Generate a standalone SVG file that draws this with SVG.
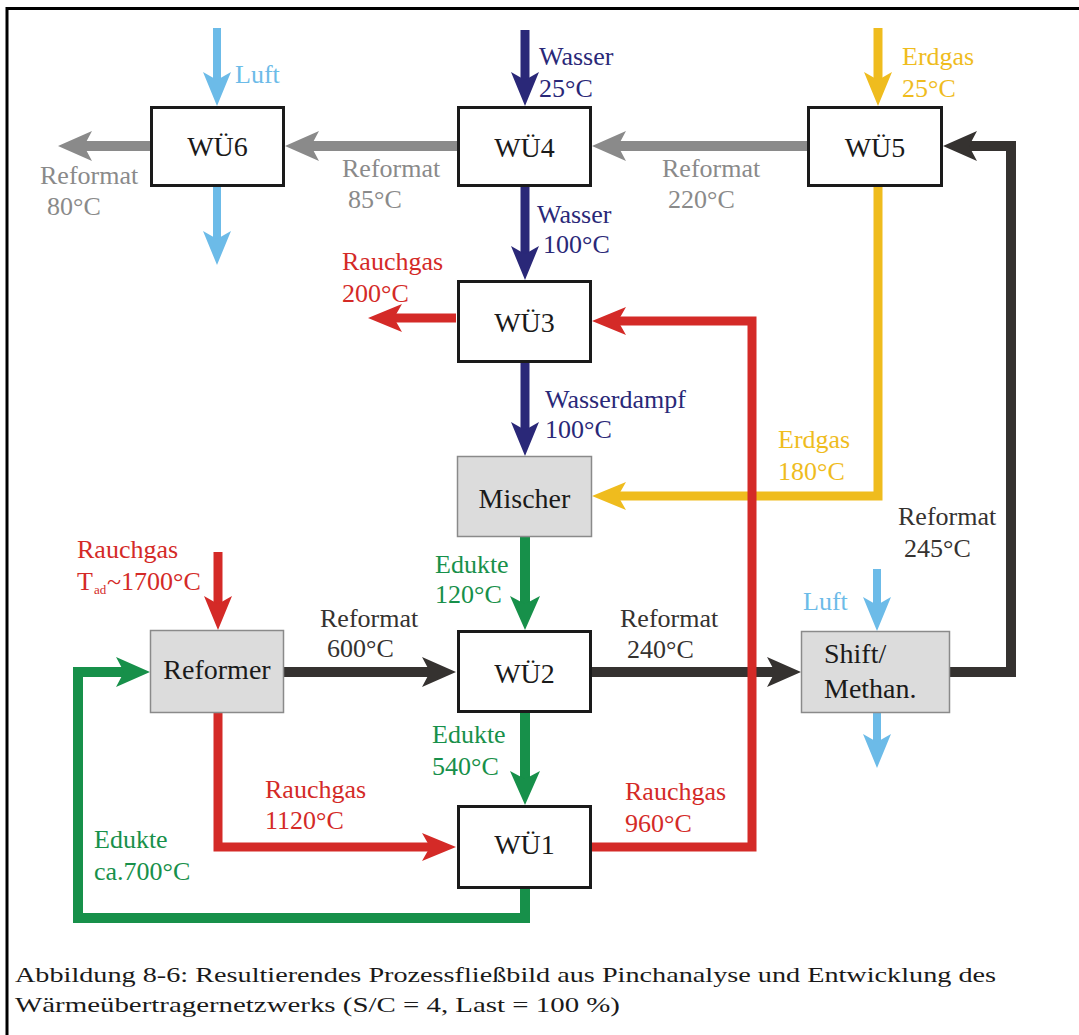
<svg xmlns="http://www.w3.org/2000/svg" width="1079" height="1035" viewBox="0 0 1079 1035">
  <style>
    text { font-family: "Liberation Serif", "Times New Roman", serif; }
    .lbl { font-size: 26px; }
    .box { font-size: 28px; fill: #1a1a1a; text-anchor: middle; }
    .hx { fill: #ffffff; stroke: #1a1a1a; stroke-width: 3; }
    .unit { fill: #dcdcdc; stroke: #8a8a8a; stroke-width: 1.5; }
    .flow { fill: none; stroke-linejoin: miter; stroke-linecap: butt; }
    .luft { stroke: #6cbbe8; stroke-width: 8; marker-end: url(#ah-luft); }
    .ref { stroke: #8a8a8a; stroke-width: 10; marker-end: url(#ah-ref); }
    .wat { stroke: #2a2878; stroke-width: 9; marker-end: url(#ah-wat); }
    .gas { stroke: #efbc1e; stroke-width: 9; marker-end: url(#ah-gas); }
    .hot { stroke: #353230; stroke-width: 10; marker-end: url(#ah-hot); }
    .flue { stroke: #d42a27; stroke-width: 9; marker-end: url(#ah-flue); }
    .edu { stroke: #17904a; stroke-width: 10; marker-end: url(#ah-edu); }
    .t-luft { fill: #6cbbe8; }
    .t-ref { fill: #8a8a8a; }
    .t-wat { fill: #2a2878; }
    .t-gas { fill: #efbc1e; }
    .t-hot { fill: #353230; }
    .t-flue { fill: #d42a27; }
    .t-edu { fill: #17904a; }
  </style>
  <defs>
    <!-- swept arrowheads; tip sits 20px beyond the end of each stream line -->
    <marker id="ah-luft" viewBox="0 0 34 30" refX="14" refY="15" markerWidth="34" markerHeight="30" markerUnits="userSpaceOnUse" orient="auto"><path d="M0,1 L34,15 L0,29 L8,15 Z" fill="#6cbbe8"/></marker>
    <marker id="ah-ref" viewBox="0 0 34 30" refX="14" refY="15" markerWidth="34" markerHeight="30" markerUnits="userSpaceOnUse" orient="auto"><path d="M0,0 L34,15 L0,30 L8,15 Z" fill="#8a8a8a"/></marker>
    <marker id="ah-wat" viewBox="0 0 34 30" refX="14" refY="15" markerWidth="34" markerHeight="30" markerUnits="userSpaceOnUse" orient="auto"><path d="M0,1 L34,15 L0,29 L8,15 Z" fill="#2a2878"/></marker>
    <marker id="ah-gas" viewBox="0 0 34 30" refX="14" refY="15" markerWidth="34" markerHeight="30" markerUnits="userSpaceOnUse" orient="auto"><path d="M0,1 L34,15 L0,29 L8,15 Z" fill="#efbc1e"/></marker>
    <marker id="ah-hot" viewBox="0 0 34 30" refX="14" refY="15" markerWidth="34" markerHeight="30" markerUnits="userSpaceOnUse" orient="auto"><path d="M0,0 L34,15 L0,30 L8,15 Z" fill="#353230"/></marker>
    <marker id="ah-flue" viewBox="0 0 34 30" refX="14" refY="15" markerWidth="34" markerHeight="30" markerUnits="userSpaceOnUse" orient="auto"><path d="M0,1 L34,15 L0,29 L8,15 Z" fill="#d42a27"/></marker>
    <marker id="ah-edu" viewBox="0 0 34 30" refX="14" refY="15" markerWidth="34" markerHeight="30" markerUnits="userSpaceOnUse" orient="auto"><path d="M0,0 L34,15 L0,30 L8,15 Z" fill="#17904a"/></marker>
  </defs>

  <rect width="1079" height="1035" fill="#ffffff"/>
  <!-- figure frame -->
  <path d="M7,1035 V8.5 H1079" fill="none" stroke="#000000" stroke-width="3"/>

  <g id="connectors" class="flow">
    <!-- air -->
    <path class="luft" d="M217,28 V86"/>
    <path class="luft" d="M217,187 V245"/>
    <path class="luft" d="M877,569 V611"/>
    <path class="luft" d="M877,713 V748"/>
    <!-- cooled reformate -->
    <path class="ref" d="M807,146 H612"/>
    <path class="ref" d="M457,146 H305"/>
    <path class="ref" d="M150,146 H78"/>
    <!-- water / steam -->
    <path class="wat" d="M525,30 V86"/>
    <path class="wat" d="M525,187 V260"/>
    <path class="wat" d="M525,363 V436"/>
    <!-- natural gas -->
    <path class="gas" d="M878,28 V86"/>
    <path class="gas" d="M878,187 V496 H612"/>
    <!-- hot reformate -->
    <path class="hot" d="M284,672 H436"/>
    <path class="hot" d="M592,672 H781"/>
    <path class="hot" d="M950,672 H1011 V146 H963"/>
    <!-- feed (Edukte) -->
    <path class="edu" d="M525,537 V610"/>
    <path class="edu" d="M525,713 V785"/>
    <path class="edu" d="M525,889 V918 H78 V672 H130"/>
    <!-- flue gas -->
    <path class="flue" d="M218,552 V610"/>
    <path class="flue" d="M218,713 V847 H436"/>
    <path class="flue" d="M592,847 H752 V321 H612"/>
    <path class="flue" d="M456,318 H388"/>
  </g>

  <g id="wue6"><rect class="hx" x="151.5" y="107.5" width="132" height="78"/><text class="box" x="217.5" y="156">WÜ6</text></g>
  <g id="wue4"><rect class="hx" x="458.5" y="107.5" width="132" height="78"/><text class="box" x="524.5" y="157">WÜ4</text></g>
  <g id="wue5"><rect class="hx" x="808.5" y="107.5" width="133" height="78"/><text class="box" x="875" y="157">WÜ5</text></g>
  <g id="wue3"><rect class="hx" x="458.5" y="281.5" width="132" height="80"/><text class="box" x="524.5" y="332">WÜ3</text></g>
  <g id="mischer"><rect class="unit" x="457.5" y="456.5" width="134" height="80"/><text class="box" x="524.5" y="508">Mischer</text></g>
  <g id="reformer"><rect class="unit" x="150.5" y="630.5" width="133" height="82"/><text class="box" x="217" y="679">Reformer</text></g>
  <g id="wue2"><rect class="hx" x="458.5" y="631.5" width="132" height="80"/><text class="box" x="524.5" y="683">WÜ2</text></g>
  <g id="wue1"><rect class="hx" x="458.5" y="806.5" width="132" height="81"/><text class="box" x="524.5" y="854">WÜ1</text></g>
  <g id="shift"><rect class="unit" x="801.5" y="631.5" width="148" height="81"/><text class="box" x="824" y="663" style="text-anchor:start">Shift/</text><text class="box" x="824" y="698" style="text-anchor:start">Methan.</text></g>

  <g id="labels" class="lbl">
    <text class="t-luft" x="235" y="83">Luft</text>
    <text class="t-ref" x="40" y="184">Reformat</text>
    <text class="t-ref" x="47" y="215">80°C</text>
    <text class="t-ref" x="342" y="177">Reformat</text>
    <text class="t-ref" x="348" y="208">85°C</text>
    <text class="t-wat" x="539" y="65">Wasser</text>
    <text class="t-wat" x="539" y="97">25°C</text>
    <text class="t-gas" x="902" y="65">Erdgas</text>
    <text class="t-gas" x="902" y="97">25°C</text>
    <text class="t-ref" x="662" y="177">Reformat</text>
    <text class="t-ref" x="668" y="208">220°C</text>
    <text class="t-wat" x="537" y="223">Wasser</text>
    <text class="t-wat" x="543" y="253">100°C</text>
    <text class="t-flue" x="342" y="270">Rauchgas</text>
    <text class="t-flue" x="342" y="302">200°C</text>
    <text class="t-wat" x="545" y="408">Wasserdampf</text>
    <text class="t-wat" x="545" y="438">100°C</text>
    <text class="t-gas" x="778" y="448">Erdgas</text>
    <text class="t-gas" x="778" y="480">180°C</text>
    <text class="t-hot" x="898" y="525">Reformat</text>
    <text class="t-hot" x="904" y="557">245°C</text>
    <text class="t-luft" x="803" y="610">Luft</text>
    <text class="t-flue" x="77" y="558">Rauchgas</text>
    <text class="t-flue" x="77" y="590">T<tspan x="94" y="594" style="font-size:13px">ad</tspan><tspan x="107" y="590">~1700°C</tspan></text>
    <text class="t-hot" x="320" y="627">Reformat</text>
    <text class="t-hot" x="327" y="657">600°C</text>
    <text class="t-edu" x="435" y="573">Edukte</text>
    <text class="t-edu" x="435" y="603">120°C</text>
    <text class="t-hot" x="620" y="627">Reformat</text>
    <text class="t-hot" x="627" y="658">240°C</text>
    <text class="t-edu" x="432" y="743">Edukte</text>
    <text class="t-edu" x="432" y="775">540°C</text>
    <text class="t-flue" x="265" y="798">Rauchgas</text>
    <text class="t-flue" x="265" y="829">1120°C</text>
    <text class="t-flue" x="625" y="800">Rauchgas</text>
    <text class="t-flue" x="625" y="832">960°C</text>
    <text class="t-edu" x="94" y="848">Edukte</text>
    <text class="t-edu" x="94" y="880">ca.700°C</text>
  </g>

  <g id="caption" style="font-size:22px; fill:#1a1a1a">
    <text x="15" y="982" textLength="981" lengthAdjust="spacingAndGlyphs">Abbildung 8-6: Resultierendes Prozessfließbild aus Pinchanalyse und Entwicklung des</text>
    <text x="15" y="1012" textLength="605" lengthAdjust="spacingAndGlyphs">Wärmeübertragernetzwerks (S/C = 4, Last = 100 %)</text>
  </g>
</svg>
